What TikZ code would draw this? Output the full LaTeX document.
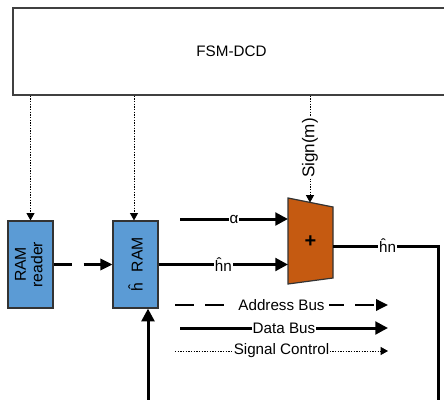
\documentclass[tikz,border=0pt]{standalone}
\usepackage{fontspec}
\setmainfont{Liberation Sans}
\usetikzlibrary{arrows.meta}
\definecolor{ramblue}{HTML}{5B9BD5}
\definecolor{addorange}{HTML}{C55A11}
\begin{document}
\begin{tikzpicture}[x=0.75pt,y=-0.75pt,font=\fontsize{11.4}{13}\selectfont,
  block/.style={draw=black!80,line width=0.9pt,fill=ramblue,minimum width=33.75pt,minimum height=65.25pt,inner sep=0pt,align=center,font=\fontsize{11.8}{13.5}\selectfont},
  sig/.style={line width=0.6pt,dash pattern=on 1pt off 1pt,-{Triangle[length=5.5pt,width=6pt]}},
  data/.style={line width=2.25pt,-{Triangle[length=9.5pt,width=9.5pt]}},
  addr/.style={line width=1.8pt,dash pattern=on 14pt off 8.5pt,-{Triangle[length=9pt,width=8.5pt]}},
  lbl/.style={fill=white,inner sep=0.6pt}]
\useasboundingbox (0,0) rectangle (444,400);
\clip (0,0) rectangle (444,400);
% FSM box
\node[draw=black!75,line width=0.9pt,minimum width=327.75pt,minimum height=65.25pt,inner sep=0pt] (fsm) at (231.5,51.5) {FSM-DCD};
% RAM blocks
\node[block] (reader) at (30.5,264.5) {\rotatebox{90}{\begin{tabular}{@{}c@{}}RAM\\[-1pt]reader\end{tabular}}};
\node[block] (ram) at (135.5,264.5) {\rotatebox{90}{ĥ\hspace{0.7em}RAM}};
% adder
\coordinate (t1) at (288,198);
\coordinate (t2) at (333,207);
\coordinate (t3) at (333,278);
\coordinate (t4) at (288,284);
\draw[fill=addorange,draw=black!80,line width=0.9pt] (t1) -- (t2) -- (t3) -- (t4) -- cycle;
\node[font=\fontsize{15}{15}\bfseries] (add) at (310.5,242) {+};
\coordinate (addtop) at (310,202.5);
\coordinate (ain1) at (288,219);
\coordinate (ain2) at (288,264.5);
\coordinate (astart) at (180,219);
\coordinate (aout) at (333,246);
\coordinate (corner) at (438,246);
\coordinate (down) at (438,410);
\coordinate (fb) at (148,410);
% control signals
\draw[sig] (fsm.south -| reader.north) -- (reader.north);
\draw[sig] (fsm.south -| 134,0) -- (ram.north -| 134,0);
\draw[sig] (fsm.south -| addtop) -- node[lbl,rotate=90,pos=0.49,font=\fontsize{12.8}{14}\selectfont]{Sign(m)} (addtop);
% address bus
\draw[addr] (reader.east) -- (ram.west);
% data buses
\draw[data] (astart) -- node[lbl]{α} (ain1);
\draw[data] (ram.east) -- node[lbl]{ĥn} (ain2);
\draw[line width=2.25pt] (aout) -- node[lbl,pos=0.52]{ĥn} (corner) -- (down);
\draw[data] (fb) -- (fb |- ram.south);
% legend
\coordinate (l1a) at (175,305);
\coordinate (l1b) at (388,305);
\coordinate (l2a) at (180,328);
\coordinate (l2b) at (388,328);
\coordinate (l3a) at (175,351);
\coordinate (l3b) at (388,351);
\draw[addr] (l1a) -- node[lbl,inner xsep=3pt]{Address Bus} (l1b);
\draw[data] (l2a) -- node[lbl]{Data Bus} (l2b);
\draw[sig] (l3a) -- node[lbl]{Signal Control} (l3b);
\end{tikzpicture}
\end{document}
